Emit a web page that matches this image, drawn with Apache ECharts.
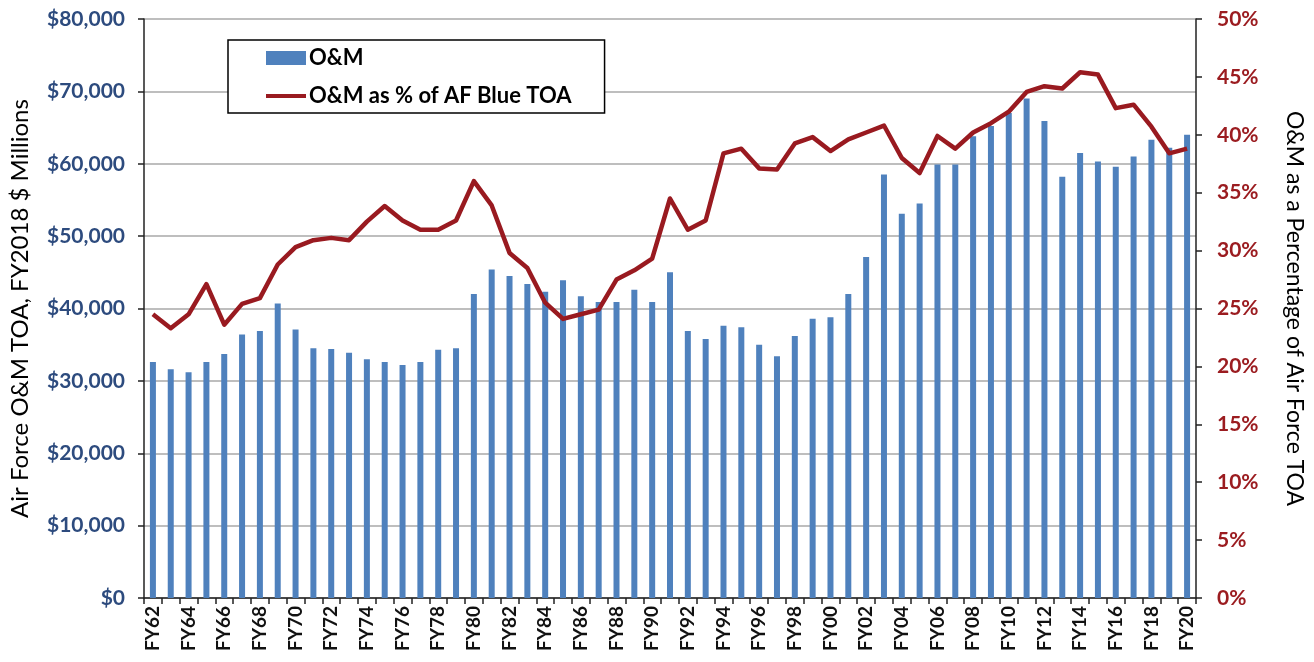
<!DOCTYPE html>
<html>
<head>
<meta charset="utf-8">
<script src="https://cdn.jsdelivr.net/npm/echarts@6/dist/echarts.min.js"></script>
<style>
html,body{margin:0;padding:0;background:#fff;}
#chart{width:1314px;height:662px;}
</style>
</head>
<body>
<div id="chart"></div>
<script>
const categories = ['FY62','FY63','FY64','FY65','FY66','FY67','FY68','FY69','FY70','FY71','FY72','FY73','FY74','FY75','FY76','FY77','FY78','FY79','FY80','FY81','FY82','FY83','FY84','FY85','FY86','FY87','FY88','FY89','FY90','FY91','FY92','FY93','FY94','FY95','FY96','FY97','FY98','FY99','FY00','FY01','FY02','FY03','FY04','FY05','FY06','FY07','FY08','FY09','FY10','FY11','FY12','FY13','FY14','FY15','FY16','FY17','FY18','FY19','FY20'];

const omValues = [32600,31600,31200,32600,33700,36400,36900,40700,37100,34500,34400,33900,33000,32600,32200,32600,34300,34500,42000,45400,44500,43400,42300,43900,41700,40900,40900,42600,40900,45000,36900,35800,37600,37400,35000,33400,36200,38600,38800,42000,47100,58500,53100,54500,59900,59900,63800,65200,67000,69000,65900,58200,61500,60300,59600,61000,63300,62200,64000];

const omPercent = [24.5,23.3,24.5,27.1,23.6,25.4,25.9,28.8,30.3,30.9,31.1,30.9,32.5,33.85,32.6,31.8,31.8,32.6,36.0,33.9,29.8,28.5,25.5,24.1,24.5,24.9,27.5,28.3,29.3,34.5,31.8,32.6,38.4,38.8,37.1,37.0,39.25,39.8,38.6,39.6,40.2,40.8,38.0,36.7,39.9,38.8,40.2,41.0,42.0,43.7,44.2,44.0,45.4,45.2,42.3,42.6,40.7,38.4,38.8];

const seriesNames = ['O&M', 'O&M as % of AF Blue TOA'];
const leftAxisName = 'Air Force O&M TOA, FY2018 $ Millions';
const rightAxisName = 'O&M as a Percentage of Air Force TOA';

const FONT = 'Lato, "Open Sans", sans-serif';
const chart = echarts.init(document.getElementById('chart'), null, {renderer: 'canvas'});

chart.setOption({
  animation: false,
  backgroundColor: '#ffffff',
  grid: {left: 143, right: 117, top: 19, bottom: 64, containLabel: false},
  legend: {
    orient: 'vertical',
    left: 228,
    top: 40,
    backgroundColor: '#ffffff',
    borderColor: '#000000',
    borderWidth: 1.5,
    borderRadius: 0,
    padding: [7, 33, 6, 38],
    itemGap: 16,
    itemWidth: 40,
    itemHeight: 14,
    symbolKeepAspect: true,
    textStyle: {fontFamily: FONT, fontWeight: 'bold', fontSize: 22, color: '#000000', padding: [0,0,0,-2]},
    data: [
      {name: seriesNames[0], icon: 'rect'},
      {name: seriesNames[1], icon: 'path://M0,0 L40,0 L40,4 L0,4 Z'}
    ]
  },
  xAxis: {
    type: 'category',
    data: categories,
    boundaryGap: true,
    axisLine: {show: true, lineStyle: {color: '#222222', width: 1.5}},
    axisTick: {show: true, alignWithLabel: false, interval: 0, length: 6, lineStyle: {color: '#222222', width: 1.5}},
    axisLabel: {
      interval: 1,
      rotate: 90,
      margin: 8,
      fontFamily: FONT,
      fontWeight: 'bold',
      fontSize: 19,
      color: '#111111'
    },
    splitLine: {show: false}
  },
  yAxis: [
    {
      type: 'value',
      min: 0,
      max: 80000,
      interval: 10000,
      position: 'left',
      name: leftAxisName,
      nameLocation: 'middle',
      nameRotate: 90,
      nameGap: 112,
      nameTextStyle: {fontFamily: FONT, fontSize: 24, color: '#000000'},
      axisLine: {show: true, lineStyle: {color: '#222222', width: 1.5}},
      axisTick: {show: true, length: 6, lineStyle: {color: '#222222', width: 1.5}},
      axisLabel: {
        margin: 19,
        fontFamily: FONT,
        fontWeight: 'bold',
        fontSize: 21,
        color: '#2D4B7E',
        formatter: function (v) { return '$' + v.toLocaleString('en-US'); }
      },
      splitLine: {show: true, lineStyle: {color: '#A8A8A8', width: 1.5}}
    },
    {
      type: 'value',
      min: 0,
      max: 50,
      interval: 5,
      position: 'right',
      name: rightAxisName,
      nameLocation: 'middle',
      nameRotate: -90,
      nameGap: 87,
      nameTextStyle: {fontFamily: FONT, fontSize: 23, color: '#000000'},
      axisLine: {show: true, lineStyle: {color: '#222222', width: 1.5}},
      axisTick: {show: true, length: 6, lineStyle: {color: '#222222', width: 1.5}},
      axisLabel: {
        margin: 21,
        fontFamily: FONT,
        fontWeight: 'bold',
        fontSize: 21,
        color: '#9B1C20',
        formatter: '{value}%'
      },
      splitLine: {show: false}
    }
  ],
  series: [
    {
      name: seriesNames[0],
      type: 'bar',
      yAxisIndex: 0,
      data: omValues,
      barWidth: 6,
      itemStyle: {color: '#4F81BD'},
      z: 2
    },
    {
      name: seriesNames[1],
      type: 'line',
      yAxisIndex: 1,
      data: omPercent,
      symbol: 'none',
      smooth: false,
      lineStyle: {color: '#991A20', width: 4.5, join: 'round'},
      itemStyle: {color: '#991A20'},
      z: 3
    }
  ]
});
</script>
</body>
</html>
